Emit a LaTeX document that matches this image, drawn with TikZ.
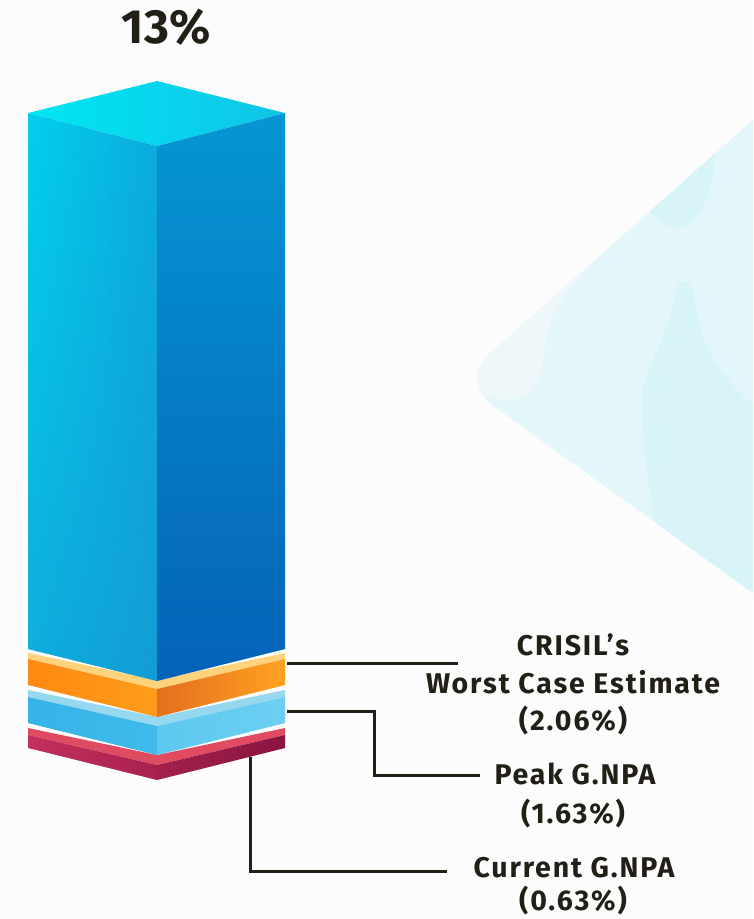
\documentclass[tikz,border=0pt]{standalone}
\usepackage{fontspec}
\setmainfont{Fira Sans}
\newfontfamily\lblfont{Fira Sans}[LetterSpace=6.5]
\usetikzlibrary{fadings}
\definecolor{bg}{HTML}{FCFCFD}
\definecolor{diam}{HTML}{E3F7FA}
\definecolor{diamdark}{HTML}{D7F4F8}
\definecolor{diamlight}{HTML}{EEF8FA}
\definecolor{ink}{HTML}{221F17}
\definecolor{barTopL}{HTML}{00E6F3}
\definecolor{barTopR}{HTML}{10C4E6}
\definecolor{barLL}{HTML}{02D0EC}
\definecolor{barLR}{HTML}{0AACDE}
\definecolor{barLdark}{HTML}{1A8FD0}
\definecolor{barRT}{HTML}{0696D3}
\definecolor{barRB}{HTML}{0462B8}
\definecolor{orStrip}{HTML}{FFD27C}
\definecolor{orL1}{HTML}{FF8912}
\definecolor{orL2}{HTML}{FF9C1A}
\definecolor{orR1}{HTML}{E46E1E}
\definecolor{orR2}{HTML}{FFA220}
\definecolor{lbStrip}{HTML}{96D8F0}
\definecolor{lbL1}{HTML}{36B3E8}
\definecolor{lbL2}{HTML}{3FBAEA}
\definecolor{lbR1}{HTML}{5DC8EE}
\definecolor{lbR2}{HTML}{6CCFF2}
\definecolor{rdStrip}{HTML}{E04B62}
\definecolor{rdL1}{HTML}{C4305C}
\definecolor{rdL2}{HTML}{A8214F}
\definecolor{rdR1}{HTML}{A3204D}
\definecolor{rdR2}{HTML}{8A1440}
\tikzfading[name=fadedown, top color=transparent!100, bottom color=transparent!0]
\begin{document}
\begin{tikzpicture}[x=1pt,y=-1pt,
  lbl/.style={font=\lblfont\bfseries\fontsize{28.5}{30}\selectfont, text=ink, anchor=base, inner sep=0pt},
  big/.style={font=\bfseries\fontsize{48}{52}\selectfont, text=ink, anchor=base, inner sep=0pt},
  conn/.style={draw=ink, line width=3pt}]
\useasboundingbox (0,0) rectangle (753,919);
\begin{scope}
\clip (0,0) rectangle (753,919);
\fill[bg] (0,0) rectangle (753,919);
% faint background diamond
\begin{scope}
\path[clip, rounded corners=40pt] (459,381) -- (800,78) -- (1150,360) -- (800,627) -- cycle;
\fill[diam] (400,0) rectangle (753,919);
\fill[diamlight] (560,238) -- (598,258) .. controls (566,288) and (550,312) .. (546,340)
  .. controls (542,378) and (535,402) .. (505,400) -- (445,385) -- (445,330) -- cycle;
\fill[diamdark] (630,175) -- (715,140) .. controls (716,190) and (700,226) .. (676,228)
  .. controls (655,226) and (645,205) .. (630,175) -- cycle;
\fill[diamdark] (676,292) .. controls (679,276) and (692,278) .. (695,300)
  .. controls (700,340) and (715,375) .. (760,410) -- (760,700) -- (662,560)
  .. controls (650,500) and (640,430) .. (642,392)
  .. controls (650,360) and (670,330) .. (676,292) -- cycle;
\end{scope}
\end{scope}

% red slab
\fill[rdStrip] (28,728)--(157,755)--(285,728)--(285,735)--(157,765)--(28,735)--cycle;
\shade[left color=rdL1, right color=rdL2] (28,735)--(157,765)--(157,780)--(28,748)--cycle;
\shade[left color=rdR1, right color=rdR2] (157,765)--(285,735)--(285,748)--(157,780)--cycle;
% light blue slab
\fill[lbStrip] (28,690)--(157,717)--(285,690)--(285,697)--(157,726)--(28,697)--cycle;
\shade[left color=lbL1, right color=lbL2] (28,697)--(157,726)--(157,755)--(28,723)--cycle;
\shade[left color=lbR1, right color=lbR2] (157,726)--(285,697)--(285,723)--(157,755)--cycle;
% orange slab
\fill[orStrip] (28,653)--(157,680)--(285,653)--(285,659)--(157,689)--(28,659)--cycle;
\shade[left color=orL1, right color=orL2] (28,659)--(157,689)--(157,717)--(28,685)--cycle;
\shade[left color=orR1, right color=orR2] (157,689)--(285,659)--(285,685)--(157,717)--cycle;
% main bar
\shade[left color=barTopL, right color=barTopR] (28,113)--(157,81)--(285,113)--(157,146)--cycle;
\shade[left color=barLL, right color=barLR] (28,113)--(157,146)--(157,681)--(28,649)--cycle;
\fill[barLdark, path fading=fadedown, fill opacity=0.55] (28,113)--(157,146)--(157,681)--(28,649)--cycle;
\shade[top color=barRT, bottom color=barRB] (157,146)--(285,113)--(285,649)--(157,681)--cycle;

% title
\node[big] (title) at (166,43) {13\%};

% labels
\node[lbl] (crisilA) at (573,655) {CRISIL’s};
\node[lbl] (crisilB) at (573,693) {Worst Case Estimate};
\node[lbl] (crisilC) at (573,730) {(2.06\%)};
\node[lbl] (peakA) at (575,784) {Peak G.NPA};
\node[lbl] (peakB) at (573,823) {(1.63\%)};
\node[lbl] (currA) at (574,877) {Current G.NPA};
\node[lbl] (currB) at (573,910) {(0.63\%)};

% connectors
\coordinate (o1) at (287,663);
\coordinate (o1e) at (458,663);
\coordinate (o2) at (287,711);
\coordinate (o2k) at (374,711);
\coordinate (o2e) at (480,775);
\coordinate (o3) at (250,757);
\coordinate (o3e) at (447,871);
\draw[conn] (o1) -- (o1e);
\draw[conn] (o2) -- (o2k) |- (o2e);
\draw[conn] (o3) |- (o3e);
\end{tikzpicture}
\end{document}
